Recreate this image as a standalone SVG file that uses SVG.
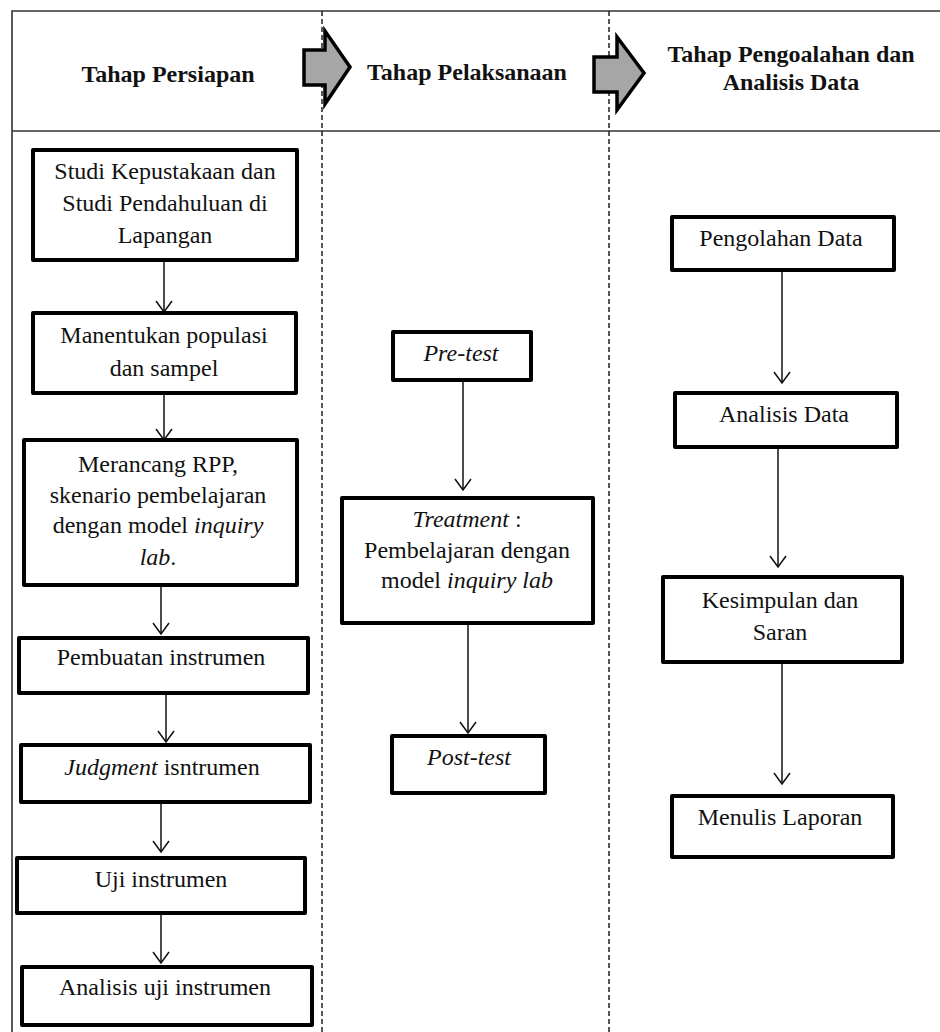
<svg xmlns="http://www.w3.org/2000/svg" width="940" height="1032" viewBox="0 0 940 1032">
<style>
.frame{stroke:#333;stroke-width:1.6;fill:none}
.dash{stroke:#222;stroke-width:1.5;stroke-dasharray:5 3;fill:none}
.box{fill:#fff;stroke:#000;stroke-width:4;stroke-linejoin:round}
.hdr{font-family:'Liberation Serif','Times New Roman',Tinos,'DejaVu Serif',serif;font-weight:bold;font-size:24px;fill:#111;text-anchor:middle}
.t{font-family:'Liberation Serif','Times New Roman',Tinos,'DejaVu Serif',serif;font-size:24px;fill:#111;text-anchor:middle}
.i{font-style:italic}
.conn{stroke:#111;stroke-width:1.5;fill:none}
.bigarrow{fill:#a6a6a6;stroke:#000;stroke-width:3.5;stroke-linejoin:miter}
</style>
<rect width="940" height="1032" fill="#fff"/>
<g id="frame">
<path class="frame" d="M940,11 H12 V1032"/>
<path class="frame" d="M12,131 H940"/>
<path class="dash" d="M322,11 V1032"/>
<path class="dash" d="M609,11 V1032"/>
</g>
<g id="header">
<text class="hdr" x="168" y="82" font-family="Liberation Serif">Tahap Persiapan</text>
<path class="bigarrow" d="M304,50 H325 V31 L350,67 L325,104 V85 H304 Z"/>
<text class="hdr" x="467" y="80">Tahap Pelaksanaan</text>
<path class="bigarrow" d="M594,57 H617 V37 L644,73 L617,110 V92 H594 Z"/>
<text class="hdr" x="791" y="62">Tahap Pengoalahan dan</text>
<text class="hdr" x="791" y="90">Analisis Data</text>
</g>
<g id="connectors">
<path class="conn" d="M164,260 V312"/><path class="conn" d="M156,301 L164,312 L172,301"/>
<path class="conn" d="M164,393 V440"/><path class="conn" d="M156,429 L164,440 L172,429"/>
<path class="conn" d="M161,585 V634"/><path class="conn" d="M153,623 L161,634 L169,623"/>
<path class="conn" d="M166,693 V742"/><path class="conn" d="M158,731 L166,742 L174,731"/>
<path class="conn" d="M161,802 V852"/><path class="conn" d="M153,841 L161,852 L169,841"/>
<path class="conn" d="M161,913 V963"/><path class="conn" d="M153,952 L161,963 L169,952"/>
<path class="conn" d="M463,380 V490"/><path class="conn" d="M455,479 L463,490 L471,479"/>
<path class="conn" d="M468,623 V733"/><path class="conn" d="M460,722 L468,733 L476,722"/>
<path class="conn" d="M782,270 V383"/><path class="conn" d="M774,372 L782,383 L790,372"/>
<path class="conn" d="M778,447 V567"/><path class="conn" d="M770,556 L778,567 L786,556"/>
<path class="conn" d="M782,662 V784"/><path class="conn" d="M774,773 L782,784 L790,773"/>
</g>
<g id="n1"><rect class="box" x="33" y="150" width="264" height="110"/>
<text class="t" x="165" y="179">Studi Kepustakaan dan</text>
<text class="t" x="165" y="211">Studi Pendahuluan di</text>
<text class="t" x="165" y="243">Lapangan</text></g>
<g id="n2"><rect class="box" x="33" y="313" width="263" height="80"/>
<text class="t" x="164" y="343">Manentukan populasi</text>
<text class="t" x="164" y="376">dan sampel</text></g>
<g id="n3"><rect class="box" x="24" y="440" width="273" height="145"/>
<text class="t" x="158" y="472">Merancang RPP,</text>
<text class="t" x="158" y="503">skenario pembelajaran</text>
<text class="t" x="158" y="533">dengan model <tspan class="i">inquiry</tspan></text>
<text class="t" x="158" y="565"><tspan class="i">lab</tspan>.</text></g>
<g id="n4"><rect class="box" x="19" y="638" width="289" height="55"/>
<text class="t" x="161" y="665">Pembuatan instrumen</text></g>
<g id="n5"><rect class="box" x="21" y="745" width="289" height="57"/>
<text class="t" x="162" y="775"><tspan class="i">Judgment</tspan> isntrumen</text></g>
<g id="n6"><rect class="box" x="17" y="858" width="288" height="55"/>
<text class="t" x="161" y="887">Uji instrumen</text></g>
<g id="n7"><rect class="box" x="22" y="967" width="290" height="58"/>
<text class="t" x="165" y="995">Analisis uji instrumen</text></g>
<g id="n8"><rect class="box" x="393" y="332" width="138" height="48"/>
<text class="t i" x="461" y="361">Pre-test</text></g>
<g id="n9"><rect class="box" x="342" y="498" width="251" height="125"/>
<text class="t" x="467" y="527"><tspan class="i">Treatment</tspan> :</text>
<text class="t" x="467" y="558">Pembelajaran dengan</text>
<text class="t" x="467" y="588">model <tspan class="i">inquiry lab</tspan></text></g>
<g id="n10"><rect class="box" x="392" y="736" width="153" height="57"/>
<text class="t i" x="469" y="765">Post-test</text></g>
<g id="n11"><rect class="box" x="672" y="217" width="222" height="53"/>
<text class="t" x="781" y="246">Pengolahan Data</text></g>
<g id="n12"><rect class="box" x="675" y="393" width="222" height="54"/>
<text class="t" x="784" y="422">Analisis Data</text></g>
<g id="n13"><rect class="box" x="663" y="577" width="239" height="85"/>
<text class="t" x="780" y="608">Kesimpulan dan</text>
<text class="t" x="780" y="640">Saran</text></g>
<g id="n14"><rect class="box" x="672" y="796" width="221" height="61"/>
<text class="t" x="780" y="825">Menulis Laporan</text></g>
</svg>
